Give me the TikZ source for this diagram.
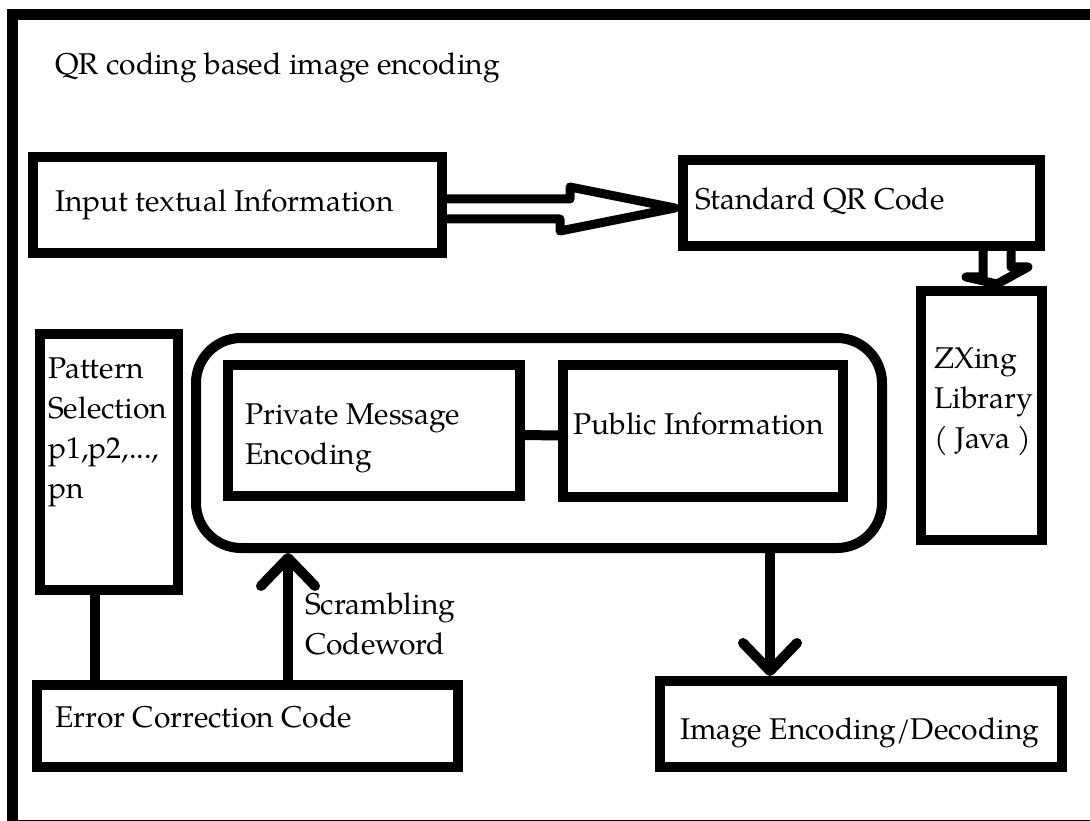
\documentclass[tikz,border=0pt]{standalone}
\usepackage{fontspec}
\setmainfont{TeX Gyre Pagella}
\usetikzlibrary{arrows.meta,calc}
\begin{document}
\begin{tikzpicture}[x=1pt,y=-1pt,
  box/.style={draw, line width=10pt, inner sep=0pt},
  txt/.style={inner sep=0pt, anchor=west, align=left, font=\fontsize{30}{40}\selectfont},
  ln/.style={line width=10pt},
  arr/.style={line width=10pt, -{Straight Barb[length=28pt,width=54pt,round]}},
  dbl/.style={line width=9pt, line join=round}]
\useasboundingbox (0,0) rectangle (1090,821);
\draw[line width=11pt] (12,15) rectangle (1101,825);
% boxes
\node[box, minimum width=409pt, minimum height=96pt] (in) at (237.5,205) {};
\node[box, minimum width=357pt, minimum height=86pt] (sqr) at (861.5,203) {};
\node[box, minimum width=121pt, minimum height=249pt] (zx) at (981.5,415.5) {};
\node[box, minimum width=138pt, minimum height=256pt] (pat) at (109,462) {};
\node[box, rounded corners=45pt, minimum width=686pt, minimum height=210pt] (big) at (539,443) {};
\node[box, minimum width=292pt, minimum height=131pt] (priv) at (374,430.5) {};
\node[box, minimum width=280pt, minimum height=132pt] (pub) at (703,431) {};
\node[box, minimum width=421pt, minimum height=82pt] (ecc) at (247.5,726) {};
\node[box, minimum width=402pt, minimum height=86pt] (img) at (861,724) {};
% texts
\node[txt] (title) at (55,68) {QR coding based image encoding};
\node[txt] (tin) at (55,205) {Input textual Information};
\node[txt] (tsqr) at (695,201) {Standard QR Code};
\node[txt] (tzx) at (934,402) {ZXing\\Library\\( Java )};
\node[txt] (tpat) at (48,432) {Pattern\\Selection\\p1,p2,...,\\pn};
\node[txt] (tpriv) at (245,438) {Private Message\\Encoding};
\node[txt] (tpub) at (573,424) {Public Information};
\node[txt] (tscr) at (305,624) {Scrambling\\Codeword};
\node[txt] (tecc) at (55,717) {Error Correction Code};
\node[txt] (timg) at (680,733) {Image Encoding/Decoding};
% connectors
\draw[dbl] ($(in.east)+(0,-6)$) -- ++(123,0) -- ++(0,-12) -- ($(sqr.west)+(-3,5)$) -- ++(-115,23) -- ++(0,-12) -- ($(in.east)+(0,14)$);
\coordinate (dx) at (997,0);
\draw[dbl] ($(dx |- sqr.south)+(-14,0)$) -- ++(0,26) -- ++(-17,0) -- ($(dx |- zx.north)+(0,-2)$) -- ++(31,-17) -- ++(-17,0) -- ($(dx |- sqr.south)+(14,0)$);
\draw[ln] ([yshift=-4.5pt]priv.east) -- ([yshift=-4.5pt]pub.west);
\coordinate (px) at (95,0);
\draw[ln] (px |- pat.south) -- (px |- ecc.north);
\coordinate (ux) at (288,0);
\draw[arr] (ux |- ecc.north) -- (ux |- big.south);
\coordinate (vx) at (770,0);
\draw[arr] (vx |- big.south) -- (vx |- img.north);
\end{tikzpicture}
\end{document}
